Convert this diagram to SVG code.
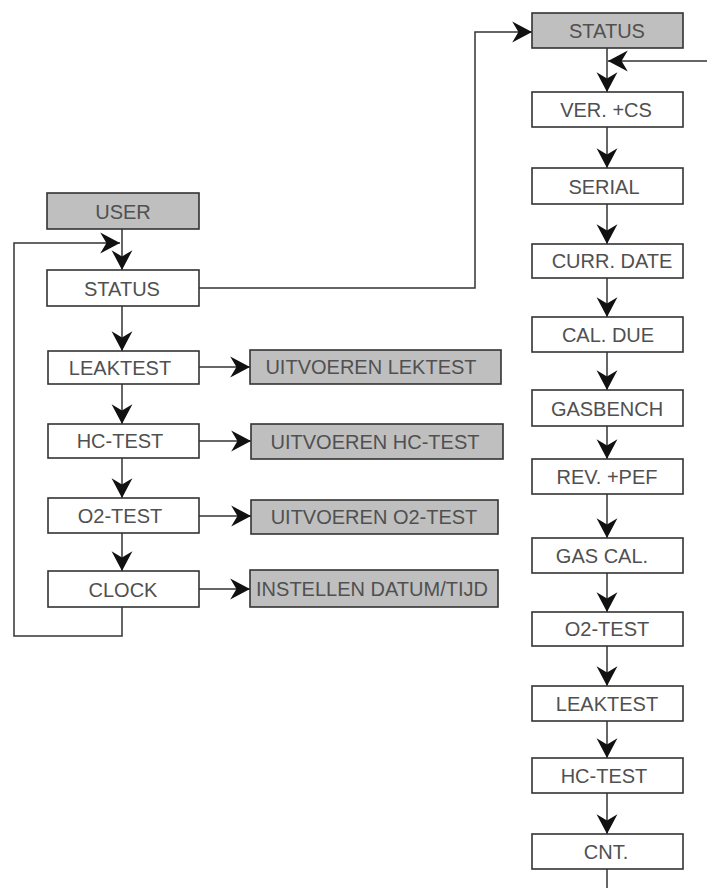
<svg xmlns="http://www.w3.org/2000/svg" width="707" height="888" viewBox="0 0 707 888">
<style>
.box{fill:#fff;stroke:#333;stroke-width:1.6}
.gbox{fill:#bfbfbf;stroke:#333;stroke-width:1.6}
.t{font-family:"Liberation Sans",Arial,sans-serif;font-size:20px;fill:#505050;text-anchor:middle}
.c{fill:none;stroke:#333;stroke-width:1.5}
</style>
<defs>
<marker id="ah" markerUnits="userSpaceOnUse" markerWidth="24" markerHeight="24" viewBox="-21 -11 23 22" refX="0" refY="0" orient="auto">
<path d="M0,0 L-19,-10 L-13,0 L-19,10 Z" fill="#111"/>
</marker>
</defs>
<rect width="707" height="888" fill="#fff"/>
<g id="connectors">
<path class="c" d="M122,229 V270" marker-end="url(#ah)"/>
<path class="c" d="M122,607 V636 H14 V243 H120" marker-end="url(#ah)"/>
<path class="c" d="M199,288 H475 V32 H532" marker-end="url(#ah)"/>
<path class="c" d="M122,306 V351" marker-end="url(#ah)"/>
<path class="c" d="M122,384 V424" marker-end="url(#ah)"/>
<path class="c" d="M122,458 V498" marker-end="url(#ah)"/>
<path class="c" d="M122,533 V571" marker-end="url(#ah)"/>
<path class="c" d="M199,367 H250" marker-end="url(#ah)"/>
<path class="c" d="M199,441 H251" marker-end="url(#ah)"/>
<path class="c" d="M199,516 H251" marker-end="url(#ah)"/>
<path class="c" d="M199,589 H250" marker-end="url(#ah)"/>
<path class="c" d="M707,61 H608" marker-end="url(#ah)"/>
<path class="c" d="M607,48 V92" marker-end="url(#ah)"/>
<path class="c" d="M607,127 V168" marker-end="url(#ah)"/>
<path class="c" d="M607,204 V244" marker-end="url(#ah)"/>
<path class="c" d="M607,278 V317" marker-end="url(#ah)"/>
<path class="c" d="M607,352 V390" marker-end="url(#ah)"/>
<path class="c" d="M607,426 V459" marker-end="url(#ah)"/>
<path class="c" d="M607,494 V538" marker-end="url(#ah)"/>
<path class="c" d="M607,573 V612" marker-end="url(#ah)"/>
<path class="c" d="M607,646 V686" marker-end="url(#ah)"/>
<path class="c" d="M607,721 V758" marker-end="url(#ah)"/>
<path class="c" d="M607,793 V834" marker-end="url(#ah)"/>
<path class="c" d="M607,869 V888"/>
</g>
<g id="user"><rect class="gbox" x="47" y="193" width="152" height="36"/><text class="t" x="123" y="219">USER</text></g>
<g id="status-l"><rect class="box" x="47" y="270" width="152" height="36"/><text class="t" x="122" y="296">STATUS</text></g>
<g id="leaktest-l"><rect class="box" x="48" y="351" width="151" height="33"/><text class="t" x="120" y="375">LEAKTEST</text></g>
<g id="hctest-l"><rect class="box" x="48" y="424" width="151" height="34"/><text class="t" x="120" y="448">HC-TEST</text></g>
<g id="o2test-l"><rect class="box" x="48" y="498" width="151" height="35"/><text class="t" x="120" y="523">O2-TEST</text></g>
<g id="clock"><rect class="box" x="48" y="571" width="151" height="36"/><text class="t" x="123" y="597">CLOCK</text></g>
<g id="uit-lek"><rect class="gbox" x="250" y="350" width="251" height="34"/><text class="t" x="371" y="374">UITVOEREN LEKTEST</text></g>
<g id="uit-hc"><rect class="gbox" x="251" y="424" width="252" height="35"/><text class="t" x="375" y="449">UITVOEREN HC-TEST</text></g>
<g id="uit-o2"><rect class="gbox" x="251" y="500" width="247" height="34"/><text class="t" x="374" y="524">UITVOEREN O2-TEST</text></g>
<g id="instellen"><rect class="gbox" x="250" y="570" width="248" height="37"/><text class="t" x="372" y="596">INSTELLEN DATUM/TIJD</text></g>
<g id="status-r"><rect class="gbox" x="532" y="13" width="151" height="35"/><text class="t" x="607" y="38">STATUS</text></g>
<g id="ver"><rect class="box" x="532" y="92" width="151" height="35"/><text class="t" x="606" y="117">VER. +CS</text></g>
<g id="serial"><rect class="box" x="532" y="168" width="151" height="36"/><text class="t" x="604" y="194">SERIAL</text></g>
<g id="currdate"><rect class="box" x="532" y="244" width="151" height="34"/><text class="t" x="612" y="268">CURR.  DATE</text></g>
<g id="caldue"><rect class="box" x="532" y="317" width="151" height="35"/><text class="t" x="608" y="342">CAL.  DUE</text></g>
<g id="gasbench"><rect class="box" x="532" y="390" width="151" height="36"/><text class="t" x="607" y="416">GASBENCH</text></g>
<g id="revpef"><rect class="box" x="532" y="459" width="151" height="35"/><text class="t" x="607" y="484">REV. +PEF</text></g>
<g id="gascal"><rect class="box" x="532" y="538" width="151" height="35"/><text class="t" x="602" y="563">GAS CAL.</text></g>
<g id="o2test-r"><rect class="box" x="532" y="612" width="151" height="34"/><text class="t" x="607" y="636">O2-TEST</text></g>
<g id="leaktest-r"><rect class="box" x="532" y="686" width="151" height="35"/><text class="t" x="607" y="711">LEAKTEST</text></g>
<g id="hctest-r"><rect class="box" x="532" y="758" width="151" height="35"/><text class="t" x="604" y="783">HC-TEST</text></g>
<g id="cnt"><rect class="box" x="532" y="834" width="151" height="35"/><text class="t" x="606" y="859">CNT.</text></g>
</svg>
